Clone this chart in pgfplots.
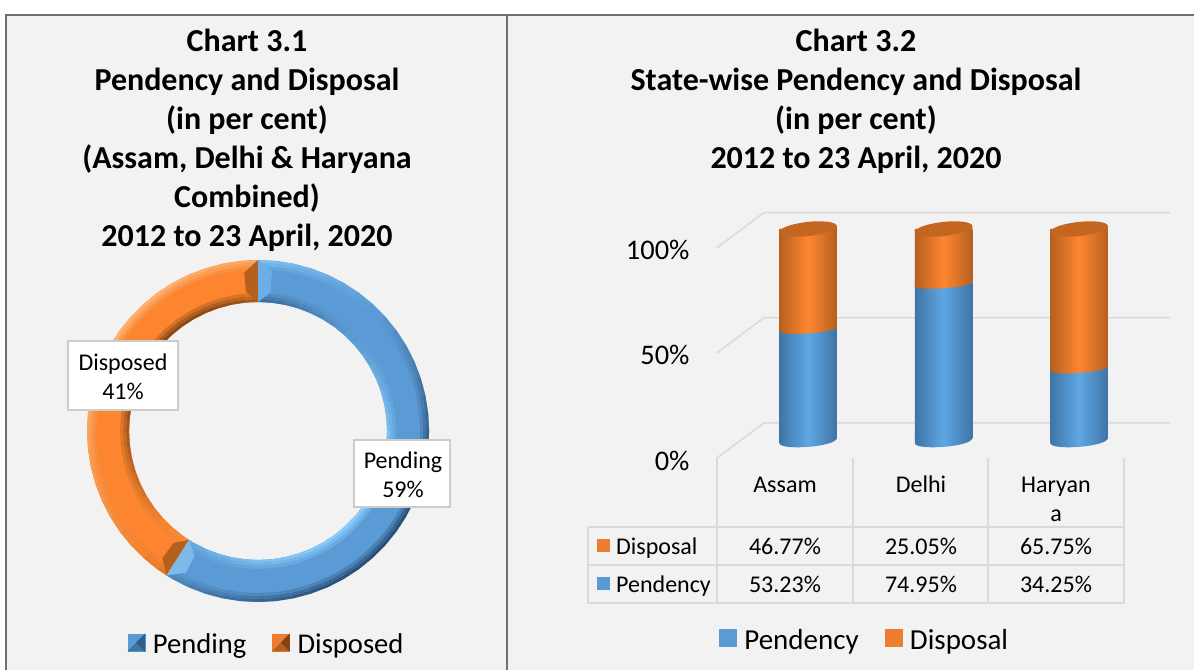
\documentclass[border=0pt]{standalone}
\usepackage{pgfplots}
\usepackage{pgfplotstable}
\usepackage{fontspec}
\setmainfont{Carlito}
\pgfplotsset{compat=1.18}
\usepgfplotslibrary{polar}
\definecolor{bgp}{HTML}{F2F2F2}
\definecolor{frm}{HTML}{707070}
\definecolor{tbl}{HTML}{D9D9D9}
\definecolor{lb}{HTML}{5B9BD5}
\definecolor{lo}{HTML}{ED7D31}
\definecolor{bl}{HTML}{5FA7E4}
\definecolor{bd}{HTML}{3F74A6}
\definecolor{ol}{HTML}{FF8630}
\definecolor{od}{HTML}{B5601F}
\definecolor{ot}{HTML}{C4661F}
\definecolor{cba}{HTML}{2A4F75}
\definecolor{cbb}{HTML}{5B9BD5}
\definecolor{cbc}{HTML}{8FD2FF}
\definecolor{coa}{HTML}{7A3F14}
\definecolor{cob}{HTML}{F5842F}
\definecolor{coc}{HTML}{FFB070}
\pgfplotsset{
  colormap={blb}{color=(cba) color=(cbb) color=(cbc)},
  colormap={orb}{color=(coa) color=(cob) color=(coc)},
}
\pgfdeclareplotmark{capO}{%
  \path[draw=none,left color=od,right color=od,middle color=ol] (28.75pt,1pt) -- (28.75pt,0pt) .. controls (28.75pt,-5.5pt) and (-28.75pt,-9.5pt) .. (-28.75pt,-4pt) -- (-28.75pt,1pt) -- cycle;}
\pgfdeclareplotmark{capB}{%
  \path[draw=none,left color=bd,right color=bd,middle color=bl] (28.75pt,1pt) -- (28.75pt,0pt) .. controls (28.75pt,-9pt) and (-28.75pt,-13pt) .. (-28.75pt,-5pt) -- (-28.75pt,1pt) -- cycle;}
\pgfdeclareplotmark{topO}{%
  \path[draw=none,left color=od,right color=od,middle color=ol] (-28.75pt,1pt) -- (28.75pt,4.2pt) -- (28.75pt,-1pt) -- (-28.75pt,-1pt) -- cycle;
  \pgfpathellipse{\pgfpoint{0pt}{1pt}}{\pgfpoint{28.75pt}{3.2pt}}{\pgfpoint{-0.8pt}{7pt}}%
  \pgfsetfillcolor{ot}\pgfusepath{fill}}
\pgfplotstableread{
state pend disp
0 53.23 46.77
1 74.95 25.05
2 34.25 65.75
}\statedata
\pgfplotstableread{
a r
90 1
84 1
78 1
72 1
66 1
60 1
54 1
48 1
42 1
36 1
30 1
24 1
18 1
12 1
6 1
0 1
-6 1
-12 1
-18 1
-24 1
-30 1
-36 1
-42 1
-48 1
-54 1
-60 1
-66 1
-72 1
-78 1
-84 1
-90 1
-96 1
-102 1
-108 1
-114 1
-120 1
-122.4 1
}\pendarc
\pgfplotstableread{
a r
237.6 1
234 1
228 1
222 1
216 1
210 1
204 1
198 1
192 1
186 1
180 1
174 1
168 1
162 1
156 1
150 1
144 1
138 1
132 1
126 1
120 1
114 1
108 1
102 1
96 1
90 1
}\disparc
\tikzset{
  sq/.style={font=\fontsize{24}{28}\selectfont,anchor=base},
}
\pgfplotsset{cyl/.style={scale only axis,width=406.5pt,height=208pt,
  at={(740.25pt,232pt)},anchor=south west,xmin=-0.5,xmax=2.5,ymin=0,ymax=100,
  hide axis,clip=false}}
\newcommand{\bevel}[5]{% table, colormap, radius, width, factor
  \addplot[mesh,forget plot,colormap name=#2,line width=#4pt,line cap=round,
    point meta={#5*cos(\thisrow{a}-135)}] table[x=a,y expr=#3*\thisrow{r}] {#1};}
\newcommand{\cylinder}[3]{% x, pendency, disposal
  \begin{axis}[cyl,ybar stacked,bar width=57.5pt]
  \addplot[draw=none,left color=bd,right color=bd,middle color=bl] coordinates {(#1,#2)};
  \addplot[draw=none,left color=od,right color=od,middle color=ol] coordinates {(#1,#3)};
  \end{axis}}
\begin{document}
\begin{tikzpicture}
\path[use as bounding box] (0pt,0pt) rectangle (1194pt,670pt);
\clip (0pt,0pt) rectangle (1194pt,670pt);
\fill[white] (0pt,0pt) rectangle (1194pt,670pt);
\fill[bgp] (6pt,0pt) rectangle (1194pt,655pt);
\draw[frm,line width=2pt] (6pt,0pt) -- (6pt,655pt) -- (1194pt,655pt);
\draw[frm,line width=2pt] (507pt,0pt) -- (507pt,655pt);

% Chart 3.1 donut
\begin{polaraxis}[scale only axis,width=400pt,height=400pt,
  at={(264pt,239pt)},anchor=center,xmin=-130,xmax=240,ymin=0,ymax=200,
  hide axis,clip=false,point meta min=-1,point meta max=1,
  legend columns=2,
  legend style={at={(0.506,0.025)},anchor=center,draw=none,fill=none,
    font=\fontsize{28.6}{32}\selectfont,inner sep=0pt,
    /tikz/every even column/.append style={column sep=24pt}},
  ]
\addlegendimage{legend image code/.code={
   \path[draw=none] (0pt,0pt) -- (23pt,0pt);
   \fill[lb] (0pt,-7pt) rectangle (17pt,10pt);
   \fill[bd] (17pt,-7pt) -- (8.5pt,1.5pt) -- (0pt,-7pt) -- cycle;
   \fill[bd!80!black] (17pt,-7pt) -- (8.5pt,1.5pt) -- (17pt,10pt) -- cycle;}}
\addlegendentry{Pending}
\addlegendimage{legend image code/.code={
   \path[draw=none] (0pt,0pt) -- (23pt,0pt);
   \fill[lo] (0pt,-7pt) rectangle (17pt,10pt);
   \fill[od] (17pt,-7pt) -- (8.5pt,1.5pt) -- (0pt,-7pt) -- cycle;
   \fill[od!70!black] (17pt,-7pt) -- (8.5pt,1.5pt) -- (17pt,10pt) -- cycle;}}
\addlegendentry{Disposed}
\addplot[forget plot,color=lb,line width=42pt] table[x=a,y expr=150*\thisrow{r}] {\pendarc};
\addplot[forget plot,color=ol!90!lo,line width=42pt] table[x=a,y expr=150*\thisrow{r}] {\disparc};
\bevel{\pendarc}{blb}{169.5}{3}{1}
\bevel{\pendarc}{blb}{166.5}{3}{0.7}
\bevel{\pendarc}{blb}{163.5}{3}{0.35}
\bevel{\pendarc}{blb}{130.5}{3}{-0.9}
\bevel{\pendarc}{blb}{133.5}{3}{-0.6}
\bevel{\pendarc}{blb}{136.5}{3}{-0.3}
\bevel{\disparc}{orb}{169.5}{3}{1}
\bevel{\disparc}{orb}{166.5}{3}{0.7}
\bevel{\disparc}{orb}{163.5}{3}{0.35}
\bevel{\disparc}{orb}{130.5}{3}{-0.9}
\bevel{\disparc}{orb}{133.5}{3}{-0.6}
\bevel{\disparc}{orb}{136.5}{3}{-0.3}
% end facets
\addplot[forget plot,fill=od,draw=none] coordinates {(90,171)(95,159)(95,140)(90,129)} -- cycle;
\addplot[forget plot,fill=bl!92!white,draw=none] coordinates {(90,171)(85,160)(85,139)(90,129)} -- cycle;
\addplot[forget plot,fill=od,draw=none] coordinates {(237.6,171)(233,159)(233,140)(237.6,129)} -- cycle;
\addplot[forget plot,fill=bl!80!white,draw=none] coordinates {(-122.4,171)(-117,159)(-117,140)(-122.4,129)} -- cycle;
\end{polaraxis}

% Chart 3.2 walls, ticks, legend
\begin{axis}[scale only axis,width=453pt,height=252.4pt,
  at={(717pt,212pt)},anchor=south west,xmin=717,xmax=1170,ymin=0,ymax=120,
  axis line style={draw=none},tick style={draw=none},major tick length=0pt,
  clip=false,
  ytick={0,50,100},yticklabels={0\%,50\%,100\%},
  xtick={785,921,1056},xticklabels={\strut Assam,\strut Delhi,{\strut Haryan\\\strut a}},
  yticklabel style={font=\fontsize{28.4}{32}\selectfont,anchor=east,xshift=-24pt,yshift=-2.5pt},
  xticklabel style={font=\fontsize{24}{29}\selectfont,align=center,anchor=north,yshift=-11pt},
  legend columns=2,
  legend style={at={(0.326,-0.721)},anchor=center,draw=none,fill=none,
    font=\fontsize{29}{33}\selectfont,inner sep=0pt,
    /tikz/every even column/.append style={column sep=24pt}},
  ]
\addlegendimage{legend image code/.code={\path[draw=none] (0pt,0pt) -- (23pt,0pt); \fill[lb] (0pt,-6pt) rectangle (17pt,11pt);}}
\addlegendentry{Pendency}
\addlegendimage{legend image code/.code={\path[draw=none] (0pt,0pt) -- (23pt,0pt); \fill[lo] (0pt,-6pt) rectangle (17pt,11pt);}}
\addlegendentry{Disposal}
\addplot[forget plot,tbl,line width=1.5pt] coordinates {(717,0)(764,16.7)(1170,16.7)};
\addplot[forget plot,tbl,line width=1.5pt] coordinates {(717,50)(764,66.7)(1170,66.7)};
\addplot[forget plot,tbl,line width=1.5pt] coordinates {(717,100)(764,116.7)(1170,116.7)};
\end{axis}

% Chart 3.2 cylinders: one axis for each state, so that each bar has its own shading
\cylinder{0}{53.23}{46.77}
\cylinder{1}{74.95}{25.05}
\cylinder{2}{34.25}{65.75}
\begin{axis}[cyl]
\addplot[only marks,draw=none,mark=capB] coordinates {(0,0)(1,0)(2,0)};
\addplot[only marks,draw=none,mark=capO] table[x=state,y=pend] {\statedata};
\addplot[only marks,draw=none,mark=topO] coordinates {(0,100)(1,100)(2,100)};
\end{axis}

\begin{scope}[x=1pt,y=1pt]
\newcommand{\ttl}[3]{\node[anchor=base,font=\bfseries\fontsize{32}{36}\selectfont] at (#1,670-#2) {#3};}
\ttl{247}{52}{Chart 3.1}
\ttl{247}{91}{Pendency and Disposal}
\ttl{247}{130}{(in per cent)}
\ttl{247}{169}{(Assam, Delhi \& Haryana}
\ttl{247}{208}{Combined)}
\ttl{247}{247}{2012 to 23 April, 2020}
\ttl{856}{52}{Chart 3.2}
\ttl{856}{91}{State-wise Pendency and Disposal}
\ttl{856}{130}{(in per cent)}
\ttl{856}{169}{2012 to 23 April, 2020}
% data labels
\draw[draw=black!20,fill=white,line width=1.5pt] (68,670-341) rectangle (178,670-410);
\node[sq] at (123,670-371) {Disposed};
\node[sq] at (123,670-400) {41\%};
\draw[draw=black!20,fill=white,line width=1.5pt] (354,670-440) rectangle (450,670-507);
\node[sq] at (403,670-468) {Pending};
\node[sq] at (403,670-497) {59\%};
% data table
\draw[tbl,line width=1.5pt] (717,670-458) -- (717,670-603);
\draw[tbl,line width=1.5pt] (853,670-458) -- (853,670-603);
\draw[tbl,line width=1.5pt] (988,670-458) -- (988,670-603);
\draw[tbl,line width=1.5pt] (1124,670-458) -- (1124,670-603);
\draw[tbl,line width=1.5pt] (588,670-527) -- (1124,670-527);
\draw[tbl,line width=1.5pt] (588,670-565) -- (1124,670-565);
\draw[tbl,line width=1.5pt] (588,670-603) -- (1124,670-603);
\draw[tbl,line width=1.5pt] (588,670-527) -- (588,670-603);
\fill[lo] (597,670-539) rectangle (610,670-552);
\fill[lb] (597,670-577) rectangle (610,670-590);
\node[sq,anchor=base west,inner sep=0pt] at (616,670-554) {Disposal};
\node[sq,anchor=base west,inner sep=0pt] at (616,670-592) {Pendency};
\node[sq] at (785,670-554) {46.77\%};
\node[sq] at (921,670-554) {25.05\%};
\node[sq] at (1056,670-554) {65.75\%};
\node[sq] at (785,670-592) {53.23\%};
\node[sq] at (921,670-592) {74.95\%};
\node[sq] at (1056,670-592) {34.25\%};
\end{scope}
\end{tikzpicture}
\end{document}
